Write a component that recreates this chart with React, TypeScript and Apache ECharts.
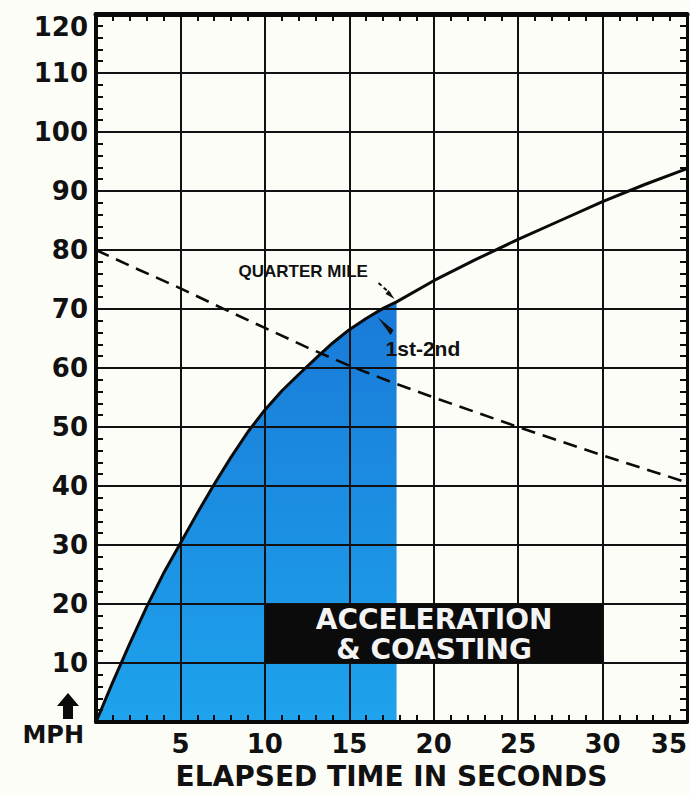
import React, { useEffect, useRef } from "react";
import * as echarts from "echarts";

// ---- data ----
const xTicks = [0, 5, 10, 15, 20, 25, 30, 35];
const yTicks = [0, 10, 20, 30, 40, 50, 60, 70, 80, 90, 100, 110, 120];

// acceleration (filled) part of the speed curve
const accelTime = [0, 1, 2, 3, 4, 5, 6, 7, 8, 9, 10, 11, 12, 13, 14, 15, 16, 17, 17.8];
const accelSpeed = [0, 6.8, 13.3, 19.5, 25.2, 30.3, 35.4, 40.3, 44.9, 49.2, 52.9, 56.1, 58.9, 61.6, 64.2, 66.5, 68.4, 70.1, 71.2];

// continuation of the speed curve past the quarter mile
const coastTime = [20, 22.5, 25, 27.5, 30, 32.5, 35];
const coastSpeed = [74.8, 78.4, 81.8, 85.0, 88.2, 91.1, 93.8];

// dashed line
const dashTime = [0, 2.5, 5, 7.5, 10, 12.5, 15, 17.5, 20, 22.5, 25, 27.5, 30, 32.5, 35];
const dashSpeed = [80, 76.7, 73.5, 70.1, 66.8, 63.5, 60.4, 57.6, 55, 52.5, 50, 47.6, 45.2, 42.9, 40.6];

const quarterMilePoint = [17.8, 71.2];
const boxCorners = [10.05, 20, 30, 10];
const boxLines = ["ACCELERATION", "& COASTING"];
const xTitle = "ELAPSED TIME IN SECONDS";
const yUnit = "MPH";

const BIG = "DejaVu Sans";
const SMALL = "Liberation Sans";

export default function App() {
  const ref = useRef<HTMLDivElement>(null);

  useEffect(() => {
    if (!ref.current) return;
    const chart = echarts.init(ref.current, null, { renderer: "svg" });

    const accelData = accelTime.map((t, i) => [t, accelSpeed[i]]);
    const fullData = accelData.concat(coastTime.map((t, i) => [t, coastSpeed[i]]));
    const dashData = dashTime.map((t, i) => [t, dashSpeed[i]]);

    const xMin = xTicks[0];
    const xMax = xTicks[xTicks.length - 1];
    const yMin = yTicks[0];
    const yMax = yTicks[yTicks.length - 1];

    const axisLine = (w: number) => ({ show: true, onZero: false, lineStyle: { color: "#0a0a0a", width: w } });
    const minorTick = { show: true, splitNumber: 5, length: 7, lineStyle: { color: "#0a0a0a", width: 2 } };

    const option: any = {
      animation: false,
      backgroundColor: "#fdfdf7",
      grid: { left: 96, right: 2, top: 14, bottom: 69, containLabel: false },
      xAxis: [
        {
          type: "value",
          min: xMin,
          max: xMax,
          interval: 5,
          position: "bottom",
          z: 3,
          axisLine: axisLine(4),
          axisTick: { show: false, inside: true },
          minorTick,
          splitLine: { show: true, lineStyle: { color: "#111", width: 2 } },
          axisLabel: {
            formatter: (v: number) => (v === 0 ? "" : String(v)),
            fontFamily: BIG,
            fontWeight: "bold",
            fontSize: 26,
            color: "#111",
            margin: 9,
            alignMaxLabel: "right",
          },
          name: xTitle,
          nameLocation: "middle",
          nameGap: 40,
          nameTextStyle: { fontFamily: BIG, fontWeight: "bold", fontSize: 28, color: "#111" },
        },
        {
          type: "value",
          min: xMin,
          max: xMax,
          interval: 5,
          position: "top",
          z: 3,
          axisLine: axisLine(5),
          axisTick: { show: false, inside: true },
          minorTick,
          splitLine: { show: false },
          axisLabel: { show: false },
        },
      ],
      yAxis: [
        {
          type: "value",
          min: yMin,
          max: yMax,
          interval: 10,
          position: "left",
          z: 3,
          axisLine: axisLine(4),
          axisTick: { show: false, inside: true },
          minorTick,
          splitLine: { show: true, lineStyle: { color: "#111", width: 2 } },
          axisLabel: {
            formatter: (v: number) => (v === 0 ? "" : String(v)),
            fontFamily: BIG,
            fontWeight: "bold",
            fontSize: 26,
            color: "#111",
            margin: 8,
            verticalAlignMaxLabel: "top",
          },
        },
        {
          type: "value",
          min: yMin,
          max: yMax,
          interval: 10,
          position: "right",
          z: 3,
          axisLine: axisLine(3),
          axisTick: { show: false, inside: true },
          minorTick,
          splitLine: { show: false },
          axisLabel: { show: false },
        },
      ],
      series: [
        {
          type: "line",
          data: accelData,
          smooth: false,
          symbol: "none",
          z: 1,
          lineStyle: { width: 0, opacity: 0 },
          areaStyle: {
            opacity: 1,
            color: new echarts.graphic.LinearGradient(0, 0, 0, 1, [
              { offset: 0, color: "#197ad8" },
              { offset: 1, color: "#1ea3ec" },
            ]),
          },
        },
        {
          type: "line",
          data: fullData,
          smooth: false,
          symbol: "none",
          z: 5,
          lineStyle: { color: "#0a0a0a", width: 3, join: "round" },
        },
        {
          type: "line",
          data: dashData,
          smooth: false,
          symbol: "none",
          z: 5,
          lineStyle: { color: "#0a0a0a", width: 2.6, type: [14, 8] },
        },
      ],
    };

    chart.setOption(option);

    const p = (t: number, v: number) => chart.convertToPixel({ gridIndex: 0 }, [t, v]) as number[];
    const b1 = p(boxCorners[0], boxCorners[1]);
    const b2 = p(boxCorners[2], boxCorners[3]);
    const bx = (b1[0] + b2[0]) / 2;
    const q = p(quarterMilePoint[0], quarterMilePoint[1]);
    const origin = p(0, 0);

    const graphic: any[] = [
      {
        type: "rect",
        z: 20,
        shape: { x: b1[0], y: b1[1], width: b2[0] - b1[0], height: b2[1] - b1[1] },
        style: { fill: "#0b0b0b" },
      },
      {
        type: "text",
        z: 21,
        x: bx,
        y: b1[1] + 15,
        style: {
          text: boxLines[0],
          fill: "#f4f4f4",
          fontFamily: BIG,
          fontWeight: "bold",
          fontSize: 28,
          align: "center",
          verticalAlign: "middle",
        },
      },
      {
        type: "text",
        z: 21,
        x: bx,
        y: b1[1] + 45,
        style: {
          text: boxLines[1],
          fill: "#f4f4f4",
          fontFamily: BIG,
          fontWeight: "bold",
          fontSize: 28,
          align: "center",
          verticalAlign: "middle",
        },
      },
      // QUARTER MILE label and dashed pointer
      {
        type: "text",
        z: 21,
        x: q[0] - 158,
        y: q[1] - 30,
        style: {
          text: "QUARTER MILE",
          fill: "#111",
          fontFamily: SMALL,
          fontWeight: "bold",
          fontSize: 17,
          align: "left",
          verticalAlign: "middle",
        },
      },
      {
        type: "line",
        z: 21,
        shape: { x1: q[0] - 18, y1: q[1] - 19, x2: q[0] - 6, y2: q[1] - 8 },
        style: { stroke: "#111", lineWidth: 2, lineDash: [4, 3] },
      },
      {
        type: "polygon",
        z: 21,
        shape: {
          points: [
            [q[0] - 8, q[1] - 12],
            [q[0] - 2, q[1] - 3],
            [q[0] - 11, q[1] - 8],
          ],
        },
        style: { fill: "#111" },
      },
      // 1st-2nd label and pointer wedge
      {
        type: "polygon",
        z: 21,
        shape: {
          points: [
            [q[0] - 19, q[1] + 15],
            [q[0] - 3, q[1] + 28],
            [q[0] - 6, q[1] + 33],
          ],
        },
        style: { fill: "#111" },
      },
      {
        type: "text",
        z: 21,
        x: q[0] - 11,
        y: q[1] + 47,
        style: {
          text: "1st-2nd",
          fill: "#111",
          fontFamily: SMALL,
          fontWeight: "bold",
          fontSize: 21,
          align: "left",
          verticalAlign: "middle",
        },
      },
      // MPH unit with up arrow
      {
        type: "polygon",
        z: 21,
        shape: {
          points: [
            [origin[0] - 39, origin[1] - 16],
            [origin[0] - 28, origin[1] - 29],
            [origin[0] - 17, origin[1] - 16],
            [origin[0] - 23, origin[1] - 16],
            [origin[0] - 23, origin[1] - 3],
            [origin[0] - 33, origin[1] - 3],
            [origin[0] - 33, origin[1] - 16],
          ],
        },
        style: { fill: "#0a0a0a" },
      },
      {
        type: "text",
        z: 21,
        x: origin[0] - 12,
        y: origin[1] + 13,
        style: {
          text: yUnit,
          fill: "#111",
          fontFamily: BIG,
          fontWeight: "bold",
          fontSize: 24,
          align: "right",
          verticalAlign: "middle",
        },
      },
    ];

    chart.setOption({ graphic });

    return () => chart.dispose();
  }, []);

  return (
    <div
      ref={ref}
      style={{ position: "fixed", left: 0, top: 0, width: 690, height: 795, background: "#fdfdf7" }}
    />
  );
}
